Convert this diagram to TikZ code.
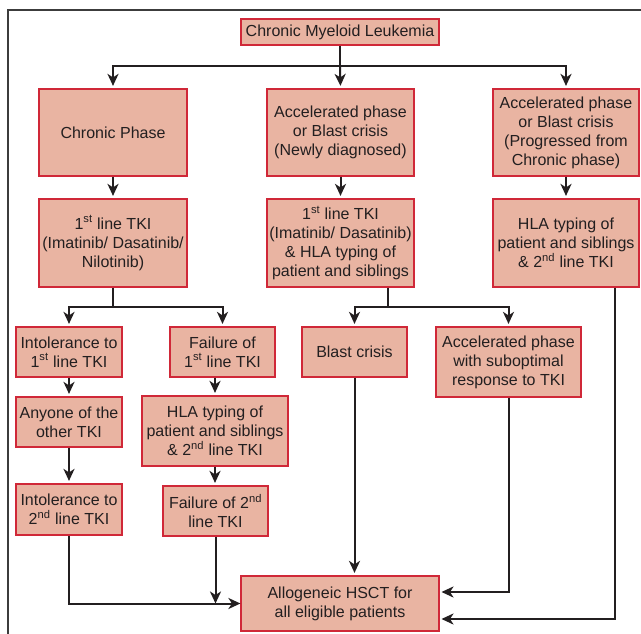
\documentclass[tikz,border=0pt]{standalone}
\usepackage{fontspec}
\setmainfont{Liberation Sans}
\usetikzlibrary{arrows.meta}
\definecolor{boxfill}{RGB}{233,180,162}
\definecolor{boxline}{RGB}{208,40,56}
\definecolor{ink}{RGB}{35,31,32}
\definecolor{framec}{RGB}{60,60,60}
\tikzset{
  box/.style={draw=boxline, fill=boxfill, line width=1.2pt, inner sep=0pt, align=center, text=ink, font=\fontsize{16}{19}\selectfont},
  conn/.style={line width=2pt, draw=ink, -{Stealth[length=12pt,width=11pt,inset=3.5pt]}, shorten >=2.5pt},
  tconn/.style={line width=2pt, draw=ink, -{Stealth[length=12pt,width=11pt,inset=3.5pt]}},
  framestyle/.style={draw=framec, line width=1.5pt}
}
\newcommand{\sst}[1]{\textsuperscript{#1}}
\begin{document}
\begin{tikzpicture}[x=1pt,y=-1pt]
\useasboundingbox (0,0) rectangle (641,634);
\fill[white] (0,0) rectangle (641,634);
\draw[framestyle] (8,634) -- (8,10) -- (641,10);

\node[box, minimum width=198pt, minimum height=26pt] (cml) at (340,32) {Chronic Myeloid Leukemia};
\node[box, minimum width=148pt, minimum height=87pt] (cp) at (113,132.5) {Chronic Phase};
\node[box, minimum width=147pt, minimum height=87pt] (apn) at (340.5,132.5) {Accelerated phase\\or Blast crisis\\(Newly diagnosed)};
\node[box, minimum width=146pt, minimum height=87pt] (app) at (566,132.5) {Accelerated phase\\or Blast crisis\\(Progressed from\\Chronic phase)};
\node[box, minimum width=148pt, minimum height=88pt] (tki1) at (113,243) {1\sst{st} line TKI\\(Imatinib/ Dasatinib/\\Nilotinib)};
\node[box, minimum width=147pt, minimum height=88pt] (tki2) at (340.5,243) {1\sst{st} line TKI\\(Imatinib/ Dasatinib)\\\& HLA typing of\\patient and siblings};
\node[box, minimum width=146pt, minimum height=88pt] (hla3) at (566,243) {HLA typing of\\patient and siblings\\\& 2\sst{nd} line TKI};
\node[box, minimum width=106pt, minimum height=50pt] (int1) at (69,352) {Intolerance to\\1\sst{st} line TKI};
\node[box, minimum width=105pt, minimum height=50pt] (fail1) at (222.5,352) {Failure of\\1\sst{st} line TKI};
\node[box, minimum width=105pt, minimum height=50pt] (blast) at (354.5,352) {Blast crisis};
\node[box, minimum width=145pt, minimum height=70pt] (apsub) at (508.5,362) {Accelerated phase\\with suboptimal\\response to TKI};
\node[box, minimum width=106pt, minimum height=50pt] (any) at (69,422) {Anyone of the\\other TKI};
\node[box, minimum width=146pt, minimum height=70pt] (hla2) at (215,431) {HLA typing of\\patient and siblings\\\& 2\sst{nd} line TKI};
\node[box, minimum width=106pt, minimum height=51pt] (int2) at (69,509.5) {Intolerance to\\2\sst{nd} line TKI};
\node[box, minimum width=105pt, minimum height=50pt] (fail2) at (215.5,511) {Failure of 2\sst{nd}\\line TKI};
\node[box, minimum width=198pt, minimum height=55pt] (hsct) at (340,603.5) {Allogeneic HSCT for\\all eligible patients};

\coordinate (b1) at (340,66);
\coordinate (b2) at (113,307);
\coordinate (b3) at (388,307);
\coordinate (h1) at (439,592);
\coordinate (h2) at (439,619);
\coordinate (r1) at (615,0);
\coordinate (b4) at (fail2.south |- hsct.west);

\draw[conn] (cml.south) -- (b1) -| (cp.north);
\draw[conn] (b1) -- (apn.north);
\draw[conn] (b1) -| (app.north);
\draw[conn] (cp) -- (tki1);
\draw[conn] (apn) -- (tki2);
\draw[conn] (app) -- (hla3);
\draw[conn] (tki1.south) -- (b2) -| (int1.north);
\draw[conn] (b2) -| (fail1.north);
\draw[conn] (b3 |- tki2.south) -- (b3) -| (blast.north);
\draw[conn] (b3) -| (apsub.north);
\draw[conn] (int1) -- (any);
\draw[conn] (fail1.south -| hla2.north) -- (hla2.north);
\draw[conn] (any) -- (int2);
\draw[conn] (hla2.south) -- (hla2.south |- fail2.north);
\draw[conn] (blast.south) -- (blast.south |- hsct.north);
\draw[tconn] (int2.south) |- (hsct.west);
\draw[tconn] (fail2.south) -- (b4);
\draw[conn] (apsub.south) |- (h1);
\draw[conn] (r1 |- hla3.south) |- (h2);
\end{tikzpicture}
\end{document}
